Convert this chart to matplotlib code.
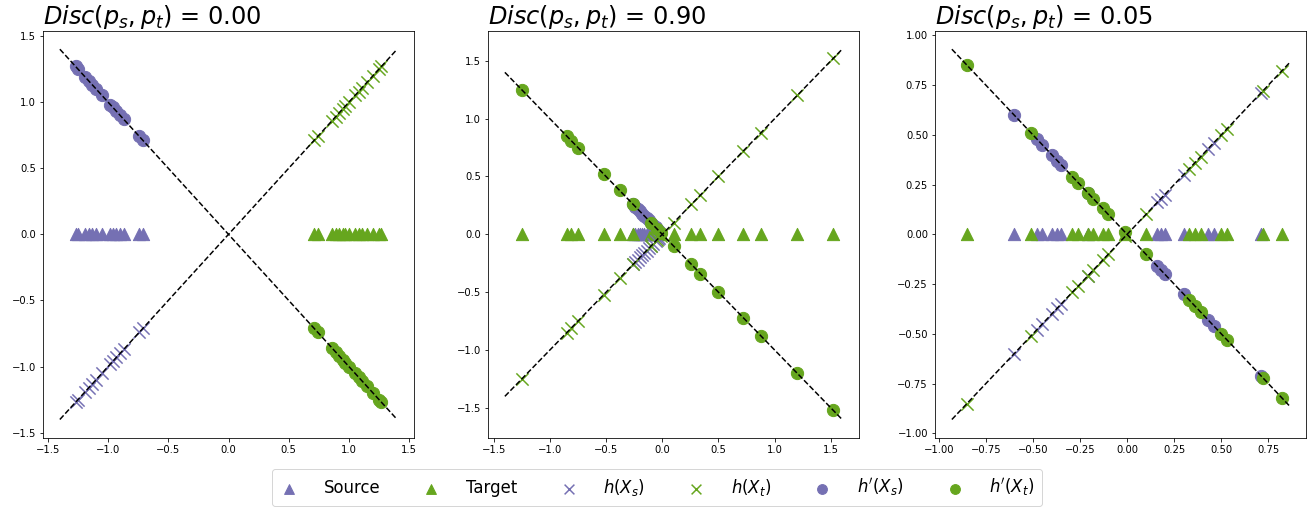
import matplotlib
matplotlib.use("Agg")
import matplotlib.pyplot as plt
import numpy as np

# ---- data ----
source_1 = [-1.27, -1.25, -1.19, -1.16, -1.13, -1.10, -1.05, -0.98, -0.96, -0.93, -0.90, -0.87, -0.74, -0.71]
target_1 = [0.71, 0.74, 0.86, 0.89, 0.92, 0.95, 0.97, 1.00, 1.05, 1.08, 1.11, 1.15, 1.20, 1.25, 1.27]

source_2 = [-0.26, -0.24, -0.22, -0.20, -0.18, -0.16, -0.14, -0.12, -0.10, -0.08, -0.06, -0.04, -0.03]
target_2 = [-1.25, -0.85, -0.81, -0.75, -0.52, -0.38, -0.26, -0.10, -0.05, -0.01,
            0.10, 0.26, 0.34, 0.50, 0.72, 0.88, 1.20, 1.52]

source_3 = [-0.60, -0.48, -0.45, -0.40, -0.37, -0.35, -0.21, 0.16, 0.18, 0.20, 0.30, 0.43, 0.46, 0.71]
target_3 = [-0.85, -0.51, -0.29, -0.26, -0.21, -0.18, -0.13, -0.10, -0.01, 0.10,
            0.33, 0.36, 0.39, 0.50, 0.53, 0.72, 0.82]

line_ranges = [(-1.4, 1.4), (-1.4, 1.6), (-0.93, 0.86)]
disc_values = [0.00, 0.90, 0.05]

sources = [source_1, source_2, source_3]
targets = [target_1, target_2, target_3]

purple = "#7570b3"
green = "#66a61e"

DPI = 72
fig = plt.figure(figsize=(1314 / DPI, 508 / DPI), dpi=DPI)

lefts = [43, 488, 935]
width = 371
top_px, bottom_px = 30.7, 438
axes = []
for l in lefts:
    ax = fig.add_axes([l / 1314, 1 - bottom_px / 508, width / 1314, (bottom_px - top_px) / 508])
    axes.append(ax)

s = 150
for ax, xs, xt, (a, b), d in zip(axes, sources, targets, line_ranges, disc_values):
    xs = np.array(xs)
    xt = np.array(xt)
    ax.scatter(xs, np.zeros_like(xs), marker="^", s=s, color=purple, label="Source", zorder=2)
    ax.scatter(xt, np.zeros_like(xt), marker="^", s=s, color=green, label="Target", zorder=2)
    ax.scatter(xs, xs, marker="x", s=s, color=purple, linewidths=1.5, label=r"$h(X_s)$", zorder=2)
    ax.scatter(xt, xt, marker="x", s=s, color=green, linewidths=1.5, label=r"$h(X_t)$", zorder=2)
    ax.scatter(xs, -xs, marker="o", s=s, color=purple, label=r"$h'(X_s)$", zorder=2)
    ax.scatter(xt, -xt, marker="o", s=s, color=green, label=r"$h'(X_t)$", zorder=2)
    ax.plot([a, b], [a, b], "k--", lw=1.5, zorder=3)
    ax.plot([a, b], [-a, -b], "k--", lw=1.5, zorder=3)
    ax.set_title(r"$Disc(p_s, p_t)$ = %.2f" % d, loc="left", fontsize=24, pad=3)
    ax.tick_params(labelsize=10)

handles, labels = axes[0].get_legend_handles_labels()
fig.legend(handles, labels, loc="lower center", bbox_to_anchor=(0.5, -0.012), ncol=6,
           fontsize=16.5, columnspacing=2.5, handlelength=1.2, handletextpad=1.5,
           borderpad=0.45, markerscale=0.8)

fig.savefig("out.png", dpi=DPI)
